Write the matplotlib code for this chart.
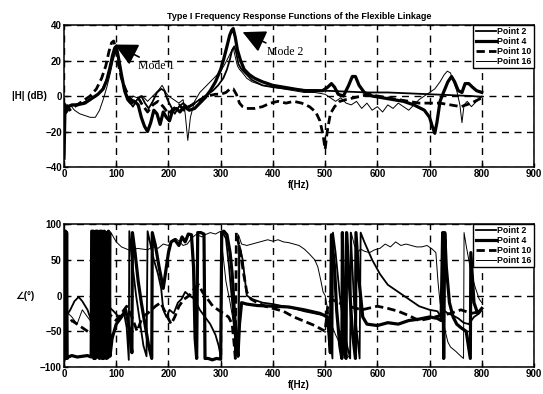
import matplotlib
matplotlib.use("Agg")
import matplotlib.pyplot as plt
import numpy as np

plt.rcParams['font.family'] = ['Liberation Sans', 'DejaVu Sans']
plt.rcParams['font.weight'] = 'bold'

series_names = ['Point 2', 'Point 4', 'Point 10', 'Point 16']

# magnitude |H| (dB), (f Hz, dB)
mag_p2 = [(0, -5), (5, -9), (10, -6), (20, -5), (35, -4), (50, -2), (62, 0), (72, 3), (80, 8),
          (88, 15), (94, 22), (98, 26), (102, 24), (106, 18), (112, 8), (118, 2), (125, -3),
          (132, -6), (140, -2), (148, 0), (155, -4), (162, -7), (170, -3), (178, 2), (186, 4),
          (192, 3), (198, -2), (205, -6), (212, -10), (220, -6), (228, -4), (236, -6), (245, -5),
          (255, -3), (265, -1), (275, 1), (285, 3), (295, 6), (305, 10), (312, 15), (318, 21),
          (322, 26), (326, 28), (330, 24), (334, 18), (340, 15), (350, 12), (360, 9), (380, 6),
          (400, 5), (430, 4), (460, 3.5), (500, 3), (540, 2.5), (580, 2), (620, 2), (660, 1.5),
          (700, 1), (740, 0.5), (780, 0), (800, -0.5)]
mag_p4 = [(0, -35), (2, -5), (4, -9), (8, -6), (15, -5), (25, -5), (40, -4), (55, -1), (65, 1),
          (75, 4), (82, 9), (88, 16), (93, 23), (97, 27), (100, 28), (104, 22), (110, 12),
          (116, 3), (122, -2), (128, -4), (135, -3), (142, -5), (148, -12), (154, -17),
          (160, -20), (166, -15), (172, -8), (178, -10), (184, -16), (190, -9), (196, -12),
          (202, -14), (208, -8), (215, -7), (222, -9), (230, -6), (240, -8), (250, -7),
          (260, -4), (270, -1), (280, 3), (290, 8), (300, 15), (306, 21), (312, 28), (317, 34),
          (321, 37), (324, 38), (328, 33), (332, 26), (338, 20), (345, 15), (355, 12), (365, 10),
          (380, 8), (400, 6), (420, 5), (440, 4), (460, 3), (480, 3), (495, 3), (505, 5),
          (512, 7), (518, 5), (525, 1), (535, 0), (545, 6), (552, 11), (558, 11), (565, 6),
          (575, 2), (590, 0), (610, -1), (630, -2), (650, -3), (670, -5), (690, -8), (700, -12),
          (705, -17), (710, -21), (714, -15), (720, -3), (728, 3), (735, 8), (742, 11), (748, 8),
          (755, 3), (762, 2), (768, 7), (775, 7), (782, 5), (790, 3), (800, 2)]
mag_p10 = [(0, -10), (4, -4), (10, -8), (20, -6), (35, -3), (50, 0), (62, 4), (72, 10), (80, 17),
           (86, 25), (91, 30), (95, 31), (99, 27), (104, 18), (110, 10), (116, 5), (122, 1),
           (128, -2), (135, -3), (142, -1), (150, -5), (160, -9), (170, -5), (180, -3), (190, -6),
           (200, -10), (210, -7), (220, -5), (230, -8), (240, -6), (250, -4), (262, -2), (275, 0),
           (290, 1), (300, 1), (310, 2), (318, 4), (324, 4), (330, 1), (336, -4), (342, -6),
           (350, -7), (365, -7), (380, -6), (395, -4), (410, -3), (425, -4), (440, -3), (455, -4),
           (470, -6), (482, -9), (490, -14), (496, -22), (500, -30), (504, -20), (510, -10),
           (518, -6), (528, -3), (540, -2), (555, -1), (570, 0), (585, 1), (600, 0), (620, -1),
           (640, -2), (660, -3), (680, -4), (700, -4), (720, -4), (740, -5), (760, -6), (780, -4),
           (800, -1)]
mag_p16 = [(0, -3), (5, -6), (12, -5), (20, -8), (30, -10), (40, -11), (50, -12), (60, -12),
           (68, -8), (75, -2), (82, 5), (88, 12), (94, 20), (99, 25), (103, 22), (108, 14),
           (114, 6), (120, 0), (126, -3), (132, 0), (140, -1), (150, 0), (160, -3), (170, 0),
           (180, 3), (188, 6), (195, 2), (200, 0), (210, -2), (220, -4), (228, -2), (232, -10),
           (237, -25), (242, -12), (250, -3), (260, 2), (270, 5), (280, 8), (290, 11), (300, 14),
           (308, 18), (315, 22), (320, 25), (324, 27), (328, 22), (332, 17), (336, 15), (342, 13),
           (350, 10), (360, 8), (380, 6), (400, 5), (420, 4), (440, 3), (460, 2), (480, 2),
           (500, 1), (510, -1), (520, -3), (530, -1), (540, -4), (550, -5), (560, -3), (570, -7),
           (580, -4), (590, -8), (600, -6), (610, -9), (620, -5), (630, -7), (640, -4), (650, -6),
           (660, -8), (670, -5), (680, -2), (690, 0), (700, 2), (710, 4), (720, 8), (728, 12),
           (734, 14), (740, 13), (746, 8), (752, 3), (758, -5), (762, -15), (766, -5), (772, -3),
           (780, -6), (790, -3), (800, 0)]

# phase (deg), (f Hz, deg)
ph_p2 = [(0, -25), (5, -28), (12, -20), (20, -8), (28, -2), (35, -8), (45, -20), (52, -35),
         (58, -45), (65, -30), (75, -20), (85, -15), (95, -22), (105, -30), (115, -25), (120, -45),
         (124, -90), (125, 90), (130, 50), (138, 0), (146, -40), (152, -70), (158, -85), (160, 90),
         (166, 70), (172, 50), (180, 30), (186, 10), (190, -20), (196, -30), (202, -20), (210, -25),
         (218, -10), (225, -5), (232, 5), (240, 0), (250, -5), (260, -20), (270, -30), (280, -40),
         (290, -55), (296, -70), (300, -85), (302, 90), (310, 80), (316, 40), (322, -10),
         (326, -50), (330, -75), (334, -85), (336, 70), (342, 50), (350, 0), (360, -5), (380, -10),
         (400, -12), (420, -15), (440, -18), (460, -22), (480, -25), (500, -28), (506, -40),
         (510, -60), (514, -88), (515, 88), (520, 60), (528, 0), (535, -40), (542, -70), (548, -88),
         (549, 88), (556, -20), (562, -60), (566, -88), (568, 88), (575, 75), (590, 50), (605, 30),
         (620, 15), (640, 5), (660, -5), (680, -15), (700, -20), (715, -22), (722, -30), (724, 10),
         (726, -20), (735, -25), (745, -28), (755, -32), (765, -38), (775, -40), (785, -30),
         (795, -25), (800, -20)]
ph_p4 = [(0, -90), (1, 90), (2, -88), (3, 90), (4, -85), (5, 88), (6, -88), (8, -86), (15, -84),
         (25, -86), (35, -85), (45, -84), (52, -86), (53, 90), (56, 90), (57, -88), (60, -88),
         (61, 90), (64, 90), (65, -86), (68, -88), (69, 90), (72, 90), (73, -88), (76, -88),
         (77, 90), (80, 88), (81, -88), (84, -87), (85, 90), (87, 88), (88, -85), (92, -60),
         (100, -40), (110, -30), (118, -20), (122, -35), (126, -55), (130, -80), (131, 88),
         (136, 60), (142, 20), (148, -10), (155, -40), (162, -70), (168, -88), (169, 88), (175, 70),
         (182, 40), (190, 10), (200, 60), (205, 75), (212, 78), (220, 70), (226, 82), (232, 75),
         (238, 86), (244, 85), (248, 40), (251, -60), (254, -88), (256, 88), (262, 88), (268, 86),
         (270, -88), (276, -88), (284, -90), (292, -88), (300, -89), (302, 88), (306, 90),
         (312, 85), (318, 60), (322, 30), (326, -20), (330, -60), (333, -85), (336, -40),
         (340, -10), (350, -12), (370, -14), (400, -15), (430, -16), (460, -20), (490, -25),
         (505, -30), (510, -80), (512, 85), (518, 40), (522, -20), (528, -70), (532, -88),
         (533, 88), (537, -80), (540, -88), (541, 88), (546, 20), (552, -50), (558, -88),
         (559, 88), (565, 20), (572, -30), (580, -40), (600, -42), (620, -38), (640, -40),
         (660, -35), (680, -33), (700, -30), (715, -32), (722, -35), (725, 88), (727, -88),
         (729, 88), (732, 40), (738, -10), (745, -30), (752, -40), (760, -45), (770, -50),
         (778, -88), (779, 60), (785, -10), (792, -25), (800, -18)]
ph_p10 = [(0, -50), (5, -40), (15, -35), (25, -40), (35, -45), (45, -50), (55, -55), (70, -35),
          (85, -25), (100, -35), (110, -25), (120, -15), (130, -30), (140, -50), (150, -30),
          (160, -25), (175, -15), (185, -10), (195, -25), (205, -40), (212, -30), (220, -15),
          (230, -5), (240, 0), (250, 10), (258, 15), (265, 5), (275, -5), (285, -15), (295, -20),
          (305, -25), (315, -30), (322, -40), (326, -70), (328, -88), (330, 88), (338, 60),
          (344, 30), (350, 5), (358, -5), (370, -10), (385, -15), (400, -18), (420, -22),
          (440, -30), (460, -36), (480, -42), (495, -48), (500, -50), (505, -15), (512, -5),
          (525, -10), (545, -15), (570, -20), (600, -15), (620, -18), (640, -22), (660, -28),
          (680, -35), (700, -32), (720, -28), (740, -25), (760, -20), (780, -25), (800, -22)]
ph_p16 = [(0, -20), (8, -25), (15, -30), (25, -40), (35, -20), (45, -30), (55, -40), (65, -50),
          (75, -60), (82, -75), (88, -85), (90, 88), (96, 80), (100, 75), (110, 68), (120, 65),
          (130, 62), (140, 66), (150, 65), (160, 64), (170, 68), (180, 66), (190, 72), (200, 70),
          (208, 78), (214, 80), (220, 76), (228, 70), (236, 72), (244, 80), (252, 85), (258, 84),
          (264, 82), (270, 85), (280, 88), (290, 86), (300, 90), (304, 60), (310, 20), (318, -10),
          (325, -40), (330, -70), (333, -85), (334, 85), (340, 72), (350, 70), (360, 72),
          (370, 74), (380, 76), (390, 78), (400, 76), (410, 78), (420, 75), (430, 74), (440, 72),
          (450, 70), (460, 65), (470, 58), (480, 50), (486, 40), (492, 20), (496, 5), (500, 0),
          (505, -20), (512, -40), (520, -55), (530, -70), (540, -82), (548, -88), (550, 88),
          (556, 70), (562, 60), (568, 65), (575, 62), (585, 60), (595, 64), (605, 66), (615, 72),
          (625, 68), (635, 75), (645, 70), (655, 72), (665, 70), (675, 68), (685, 68), (695, 70),
          (705, 65), (712, 60), (716, 20), (720, -10), (725, -30), (730, -50), (735, -65),
          (740, -72), (750, -78), (760, -85), (765, -88), (766, 88), (770, 70), (775, 50),
          (780, 30), (788, 10), (795, -5), (800, -10)]

mag_data = [mag_p2, mag_p4, mag_p10, mag_p16]
ph_data = [ph_p2, ph_p4, ph_p10, ph_p16]
styles = [dict(ls='-', lw=1.3), dict(ls='-', lw=2.3), dict(ls=(0, (3, 1.5)), lw=2.0), dict(ls='-', lw=0.7)]

fig = plt.figure(figsize=(5.43, 3.94), dpi=100)
ax1 = fig.add_axes([0.1179, 0.5761, 0.8656, 0.3604])
ax2 = fig.add_axes([0.1179, 0.0685, 0.8656, 0.3629])

for ax, data in ((ax1, mag_data), (ax2, ph_data)):
    for name, pts, st in zip(series_names, data, styles):
        arr = np.array(pts, dtype=float)
        ax.plot(arr[:, 0], arr[:, 1], color='k', label=name, **st)
    ax.set_xlim(0, 900)
    ax.set_xticks(np.arange(0, 901, 100))
    ax.grid(True, color='k', linestyle=(0, (5, 4)), linewidth=1.0)
    ax.tick_params(direction='in', length=3, labelsize=7, pad=1.5, width=1)
    for s in ax.spines.values():
        s.set_linewidth(1.1)
    ax.set_xlabel('f(Hz)', fontsize=7, fontweight='bold', labelpad=1)
    leg = ax.legend(loc='upper right', fontsize=6.3, frameon=True, fancybox=False,
                    edgecolor='k', framealpha=1, borderaxespad=0, borderpad=0.25,
                    labelspacing=0.1, handlelength=2.3, handletextpad=0.2)
    leg.get_frame().set_linewidth(1.0)

ax1.set_ylim(-40, 40)
ax1.set_yticks([-40, -20, 0, 20, 40])
ax2.set_ylim(-100, 100)
ax2.set_yticks([-100, -50, 0, 50, 100])

ax1.set_title('Type I Frequency Response Functions of the Flexible Linkage',
              fontsize=6.5, fontweight='bold', pad=4)
ax1.set_ylabel('|H| (dB)', fontsize=7, fontweight='bold', rotation=0, ha='right', va='center')
ax1.yaxis.set_label_coords(-0.036, 0.5)
ax2.set_ylabel('∠(°)', fontsize=7, fontweight='bold', rotation=0, ha='right', va='center')
ax2.yaxis.set_label_coords(-0.062, 0.5)

arrow = dict(arrowstyle='-|>,head_length=1.0,head_width=0.5', mutation_scale=14,
             color='k', lw=1.2, shrinkA=0, shrinkB=0)
ax1.annotate('Mode 1', xy=(97, 29), xytext=(142, 17), fontsize=8.5, fontweight='normal',
             family='Liberation Serif', ha='left', va='center', arrowprops=arrow)
ax1.annotate('Mode 2', xy=(342, 36), xytext=(388, 25), fontsize=8.5, fontweight='normal',
             family='Liberation Serif', ha='left', va='center', arrowprops=arrow)

fig.savefig('out.png', dpi=100, facecolor='white')
